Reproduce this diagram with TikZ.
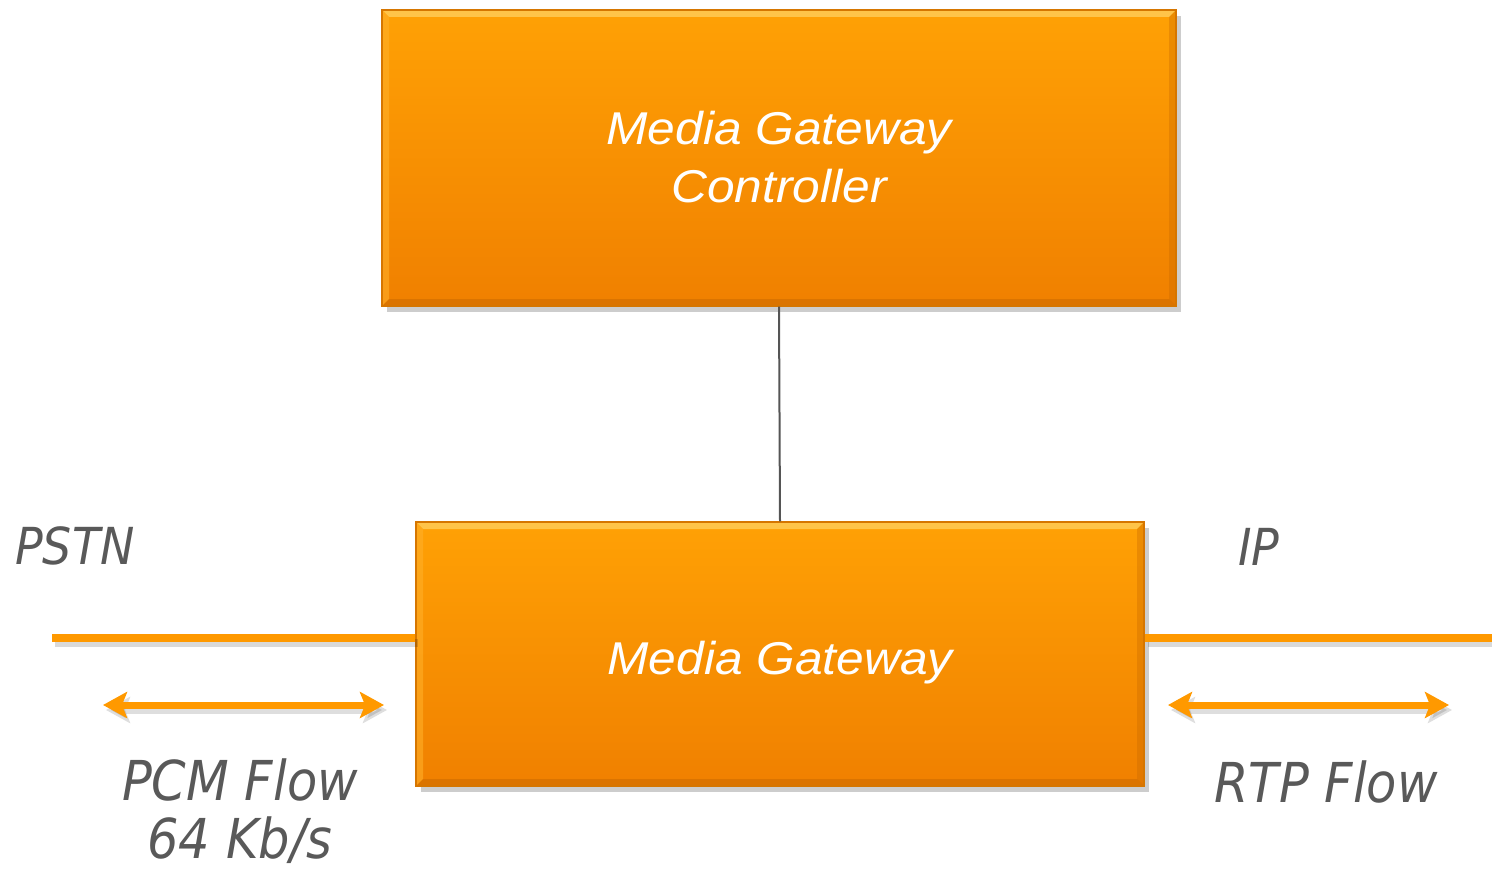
\documentclass[tikz,border=0pt]{standalone}
\usepackage{fontspec}
\setmainfont[FakeStretch=1.08]{Liberation Sans}
\newfontfamily\labelfont[FakeStretch=0.9]{DejaVu Sans}
\usetikzlibrary{arrows.meta,shadows,calc}

\definecolor{boxtop}{RGB}{255,161,5}
\definecolor{boxbot}{RGB}{240,128,0}
\definecolor{boxedge}{RGB}{214,118,0}
\definecolor{bevlight}{RGB}{255,205,90}
\definecolor{bevside}{RGB}{255,175,40}
\definecolor{bevdark}{RGB}{200,105,0}
\definecolor{flow}{RGB}{255,153,0}
\definecolor{labelgray}{RGB}{89,89,89}
\definecolor{linkgray}{RGB}{85,85,85}

\tikzset{
  unitbox/.style={rectangle, top color=boxtop, bottom color=boxbot,
    draw=boxedge, line width=1.2pt, text=white, align=center,
    font=\fontsize{46}{58}\selectfont\itshape,
    drop shadow={shadow xshift=5pt, shadow yshift=-6pt, opacity=0.28, fill=black!70},
    path picture={
      \coordinate (nw) at (path picture bounding box.north west);
      \coordinate (ne) at (path picture bounding box.north east);
      \coordinate (sw) at (path picture bounding box.south west);
      \coordinate (se) at (path picture bounding box.south east);
      \fill[bevlight, opacity=0.8] (nw) -- (ne) -- ([xshift=-7pt,yshift=-7pt]ne) -- ([xshift=7pt,yshift=-7pt]nw) -- cycle;
      \fill[bevside, opacity=0.6] (nw) -- ([xshift=7pt,yshift=-7pt]nw) -- ([xshift=7pt,yshift=7pt]sw) -- (sw) -- cycle;
      \fill[bevdark, opacity=0.35] (ne) -- ([xshift=-7pt,yshift=-7pt]ne) -- ([xshift=-7pt,yshift=7pt]se) -- (se) -- cycle;
      \fill[bevdark, opacity=0.5] (sw) -- ([xshift=7pt,yshift=7pt]sw) -- ([xshift=-7pt,yshift=7pt]se) -- (se) -- cycle;
    }},
  netlabel/.style={text=labelgray, inner sep=0pt},
  smalllabel/.style={netlabel, font=\fontsize{51}{58}\selectfont\labelfont\itshape},
  biglabel/.style={netlabel, font=\fontsize{55}{58}\selectfont\labelfont\itshape},
  trunk/.style={draw=flow, line width=8pt},
  trunkshadow/.style={draw=black, opacity=0.15, line width=8pt},
  flowarrow/.style={draw=flow, line width=7pt, {Stealth[length=24pt,width=26pt,inset=5pt]}-{Stealth[length=24pt,width=26pt,inset=5pt]}},
  flowshadow/.style={draw=black, opacity=0.13, line width=7pt, {Stealth[length=24pt,width=26pt,inset=5pt]}-{Stealth[length=24pt,width=26pt,inset=5pt]}},
  link/.style={draw=linkgray, line width=2pt}
}

\begin{document}
\begin{tikzpicture}[x=1pt, y=-1pt]
  \useasboundingbox (0,0) rectangle (1492,869);

  % controller and gateway boxes
  \node[unitbox, minimum width=794pt, minimum height=296pt,
        text height=90pt, text depth=0pt] (mgc) at (779,158)
    {Media Gateway\\Controller};
  \node[unitbox, minimum width=728pt, minimum height=264pt,
        text height=40pt, text depth=0pt] (mg) at (780,654)
    {Media Gateway};

  % control link
  \draw[link] (mgc.south) -- (mg.north);

  % network trunks
  \coordinate (pstnend) at (52,638);
  \coordinate (ipend) at (1492,638);
  \draw[trunkshadow] ($(pstnend)+(3,5)$) -- ($(pstnend -| mg.west)+(3,5)$);
  \draw[trunkshadow] ($(mg.east |- ipend)+(3,5)$) -- ($(ipend)+(3,5)$);
  \draw[trunk] (pstnend) -- (pstnend -| mg.west);
  \draw[trunk] (mg.east |- ipend) -- (ipend);

  % media flow arrows
  \coordinate (pcmA) at (103,705);
  \coordinate (pcmB) at (384,705);
  \coordinate (rtpA) at (1168,705);
  \coordinate (rtpB) at (1449,705);
  \draw[flowshadow] ($(pcmA)+(3,5)$) -- ($(pcmB)+(3,5)$);
  \draw[flowshadow] ($(rtpA)+(3,5)$) -- ($(rtpB)+(3,5)$);
  \draw[flowarrow] (pcmA) -- (pcmB);
  \draw[flowarrow] (rtpA) -- (rtpB);

  % labels
  \node[smalllabel, anchor=base west] (pstn) at (15,564) {PSTN};
  \node[smalllabel, anchor=base west] (ip) at (1238,565) {IP};
  \node[biglabel, anchor=base, align=center] (pcm) at (240,858)
    {PCM Flow\\64 Kb/s};
  \node[biglabel, anchor=base] (rtp) at (1326,802) {RTP Flow};
\end{tikzpicture}
\end{document}
